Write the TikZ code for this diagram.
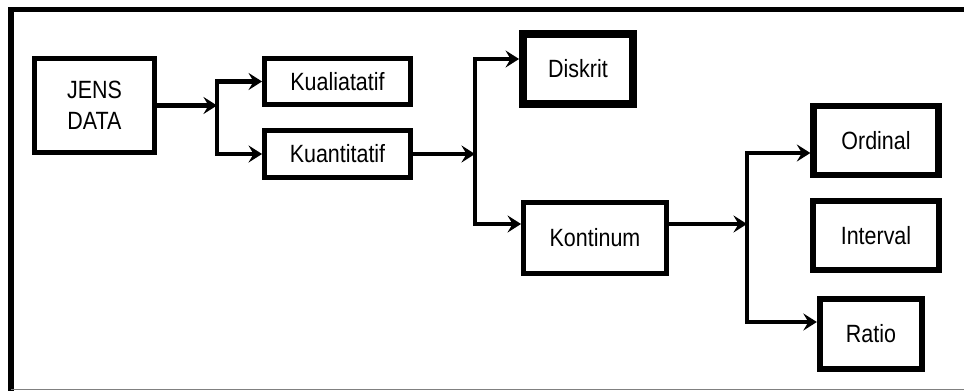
\documentclass[tikz,border=0pt]{standalone}
\usepackage{fontspec}
\setmainfont{Liberation Sans}[FakeStretch=0.86]
\usepackage{xcolor}
\definecolor{inkBlack}{HTML}{000000}
\definecolor{frameGray}{HTML}{808080}
\usepackage{tikz}
\usetikzlibrary{
    arrows.meta,
    positioning,
    calc
}
\tikzset{
    % Base style for all boxes
    base box/.style={
        font=\fontsize{14.2}{17.5}\selectfont,
        align=center,
        text=inkBlack,
        rectangle,
        draw=inkBlack,
        inner sep=0pt,
        line width=2.8pt,
    },
    % Heavier border for a few boxes
    heavy box/.style={
        base box,
        line width=3.6pt,
    },
    % Plain connector line (the vertical bars)
    wire/.style={
        line width=2.8pt,
        draw=inkBlack,
        line cap=rect,
    },
    % Arrow style - notched stealth head
    arrow/.style={
        wire,
        line cap=butt,
        -{Stealth[length=2.7mm, width=3.4mm, inset=1mm]},
    },
}

\begin{document}
\begin{tikzpicture}[x=0.02cm, y=-0.02cm]
    \useasboundingbox (0,0) rectangle (964,391);

    % outer frame
    \draw [line width=3.2pt, draw=inkBlack] (11,392) -- (11,9.5) -- (966,9.5);
    \draw [line width=0.7pt, draw=frameGray] (11,389.5) -- (966,389.5);

    % boxes
    \node (jens) [base box, minimum width=2.4cm, minimum height=1.88cm] at (94.5,105.5) {JENS\\DATA};
    \node (kuali) [base box, minimum width=2.92cm, minimum height=0.92cm] at (337.5,81.5) {Kualiatatif};
    \node (kuanti) [base box, minimum width=2.92cm, minimum height=0.94cm] at (337.5,154) {Kuantitatif};
    \node (diskrit) [base box, line width=4.5pt, minimum width=2.2cm, minimum height=1.4cm] at (578,69) {Diskrit};
    \node (kontinum) [base box, minimum width=2.86cm, minimum height=1.42cm] at (595,238) {Kontinum};
    \node (ordinal) [heavy box, minimum width=2.5cm, minimum height=1.37cm] at (876,140.5) {Ordinal};
    \node (interval) [heavy box, minimum width=2.52cm, minimum height=1.38cm] at (876,235.5) {Interval};
    \node (ratio) [heavy box, minimum width=2.04cm, minimum height=1.4cm] at (871,334) {Ratio};

    % branch points
    \coordinate (b1) at (217,105.5);
    \coordinate (d1) at (475,59);
    \coordinate (k1) at (475,224);
    \coordinate (o1) at (747,153);
    \coordinate (r1) at (747,322);

    % first split
    \draw [wire] (kuali.west -| b1) -- (kuanti.west -| b1);
    \draw [arrow] (jens.east |- b1) -- (b1);
    \draw [arrow] (kuali.west -| b1) -- (kuali.west);
    \draw [arrow] (kuanti.west -| b1) -- (kuanti.west);

    % second split
    \draw [wire] (d1) -- (k1);
    \draw [arrow] (kuanti.east) -- (kuanti.east -| d1);
    \draw [arrow] (d1) -- (d1 -| diskrit.west);
    \draw [arrow] (k1) -- (k1 -| kontinum.west);

    % third split
    \draw [wire] (o1) -- (r1);
    \draw [arrow] (k1 -| kontinum.east) -- (k1 -| o1);
    \draw [arrow] (o1) -- (o1 -| ordinal.west);
    \draw [arrow] (r1) -- (r1 -| ratio.west);
\end{tikzpicture}
\end{document}
